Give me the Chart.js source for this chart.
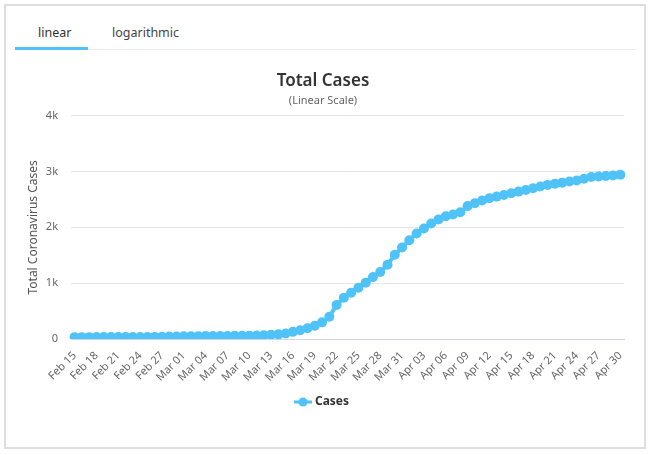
<!DOCTYPE html>
<html>
<head>
<meta charset="utf-8">
<script src="https://cdn.jsdelivr.net/npm/chart.js@4"></script>
<style>
  body { margin: 0; background: #fff; font-family: "Noto Sans", sans-serif; }
  .frame { position: absolute; left: 4px; top: 4px; width: 638px; height: 441px; border: 2px solid #dedede; }
  .tabs { position: absolute; left: 9px; top: 0; width: 622px; height: 43px; border-bottom: 1px solid #ebebeb; }
  .tab { position: absolute; top: 18px; font-size: 12.5px; color: #444; }
  .tab.active { color: #333; }
  .bar { position: absolute; left: 0; top: 41px; width: 73px; height: 3px; background: #4fc3f7; }
  .wrap { position: absolute; left: 0; top: 52px; width: 638px; height: 388px; }
</style>
</head>
<body>
<div class="frame">
  <div class="tabs">
    <div class="tab active" style="left:23px">linear</div>
    <div class="tab" style="left:97px">logarithmic</div>
    <div class="bar"></div>
  </div>
  <div class="wrap"><canvas id="chart" width="638" height="388"></canvas></div>
</div>
<script>
const dates = [
  'Feb 15','Feb 16','Feb 17','Feb 18','Feb 19','Feb 20','Feb 21','Feb 22','Feb 23','Feb 24',
  'Feb 25','Feb 26','Feb 27','Feb 28','Feb 29','Mar 01','Mar 02','Mar 03','Mar 04','Mar 05',
  'Mar 06','Mar 07','Mar 08','Mar 09','Mar 10','Mar 11','Mar 12','Mar 13','Mar 14','Mar 15',
  'Mar 16','Mar 17','Mar 18','Mar 19','Mar 20','Mar 21','Mar 22','Mar 23','Mar 24','Mar 25',
  'Mar 26','Mar 27','Mar 28','Mar 29','Mar 30','Mar 31','Apr 01','Apr 02','Apr 03','Apr 04',
  'Apr 05','Apr 06','Apr 07','Apr 08','Apr 09','Apr 10','Apr 11','Apr 12','Apr 13','Apr 14',
  'Apr 15','Apr 16','Apr 17','Apr 18','Apr 19','Apr 20','Apr 21','Apr 22','Apr 23','Apr 24',
  'Apr 25','Apr 26','Apr 27','Apr 28','Apr 29','Apr 30'
];

const cases = [
  35, 35, 35, 36, 36, 36, 36, 37, 37, 38,
  38, 40, 42, 45, 48, 50, 52, 52, 54, 55,
  56, 57, 58, 60, 62, 65, 70, 78, 85, 100,
  130, 160, 195, 240, 300, 400, 610, 740, 830, 920,
  1010, 1110, 1200, 1330, 1510, 1640, 1770, 1890, 1980, 2070,
  2140, 2200, 2230, 2270, 2380, 2430, 2480, 2520, 2550, 2580,
  2610, 2640, 2670, 2700, 2730, 2760, 2780, 2800, 2820, 2840,
  2870, 2900, 2910, 2920, 2930, 2940
];

const yTicks = [0, 1000, 2000, 3000, 4000];

const blue = '#4fc3f7';
const font = '"Noto Sans", sans-serif';

// legend symbol: short line with a dot, like the reference
const sym = document.createElement('canvas');
sym.width = 18; sym.height = 10;
const sctx = sym.getContext('2d');
sctx.strokeStyle = blue; sctx.lineWidth = 3;
sctx.beginPath(); sctx.moveTo(0, 5); sctx.lineTo(18, 5); sctx.stroke();
sctx.fillStyle = blue;
sctx.beginPath(); sctx.arc(9, 5, 4.5, 0, Math.PI * 2); sctx.fill();

new Chart(document.getElementById('chart'), {
  type: 'line',
  data: {
    labels: dates,
    datasets: [{
      label: 'Cases',
      data: cases,
      borderColor: blue,
      backgroundColor: blue,
      borderWidth: 4,
      pointRadius: 5,
      pointHoverRadius: 5,
      pointBorderWidth: 0,
      pointStyle: 'circle',
      tension: 0
    }]
  },
  options: {
    responsive: false,
    animation: false,
    layout: { padding: { left: 16, right: 20, top: 8, bottom: 28 } },
    plugins: {
      title: {
        display: true,
        text: 'Total Cases',
        color: '#333',
        font: { family: font, size: 17, weight: '600' },
        padding: { top: 5, bottom: 3 }
      },
      subtitle: {
        display: true,
        text: '(Linear Scale)',
        color: '#666',
        font: { family: font, size: 11 },
        padding: { bottom: 8 }
      },
      legend: {
        position: 'bottom',
        labels: {
          usePointStyle: true,
          pointStyle: sym,
          color: '#333',
          padding: 10,
          font: { family: font, size: 12, weight: 'bold' },
          generateLabels: chart => chart.data.datasets.map((ds, i) => ({
            text: ds.label, pointStyle: sym, fontColor: '#333',
            fillStyle: blue, strokeStyle: blue, lineWidth: 0, datasetIndex: i
          }))
        }
      },
      tooltip: { enabled: false }
    },
    scales: {
      x: {
        offset: true,
        grid: { display: false },
        border: { color: '#ccd6eb' },
        ticks: {
          autoSkip: false,
          maxRotation: 45,
          minRotation: 45,
          color: '#666',
          padding: 2,
          font: { family: font, size: 11 },
          callback: function(v, i) { return i % 3 === 0 ? dates[i] : ''; }
        }
      },
      y: {
        min: 0,
        max: 4000,
        afterBuildTicks: axis => { axis.ticks = yTicks.map(v => ({ value: v })); },
        afterFit: axis => { axis.width = 49; },
        grid: { color: '#e6e6e6', drawTicks: false },
        border: { display: false },
        ticks: {
          color: '#666',
          padding: 13,
          font: { family: font, size: 11 },
          callback: v => v === 0 ? '0' : (v / 1000) + 'k'
        },
        title: {
          display: true,
          text: 'Total Coronavirus Cases',
          color: '#555',
          font: { family: font, size: 12 },
          padding: { bottom: 4 }
        }
      }
    }
  }
});
</script>
</body>
</html>
